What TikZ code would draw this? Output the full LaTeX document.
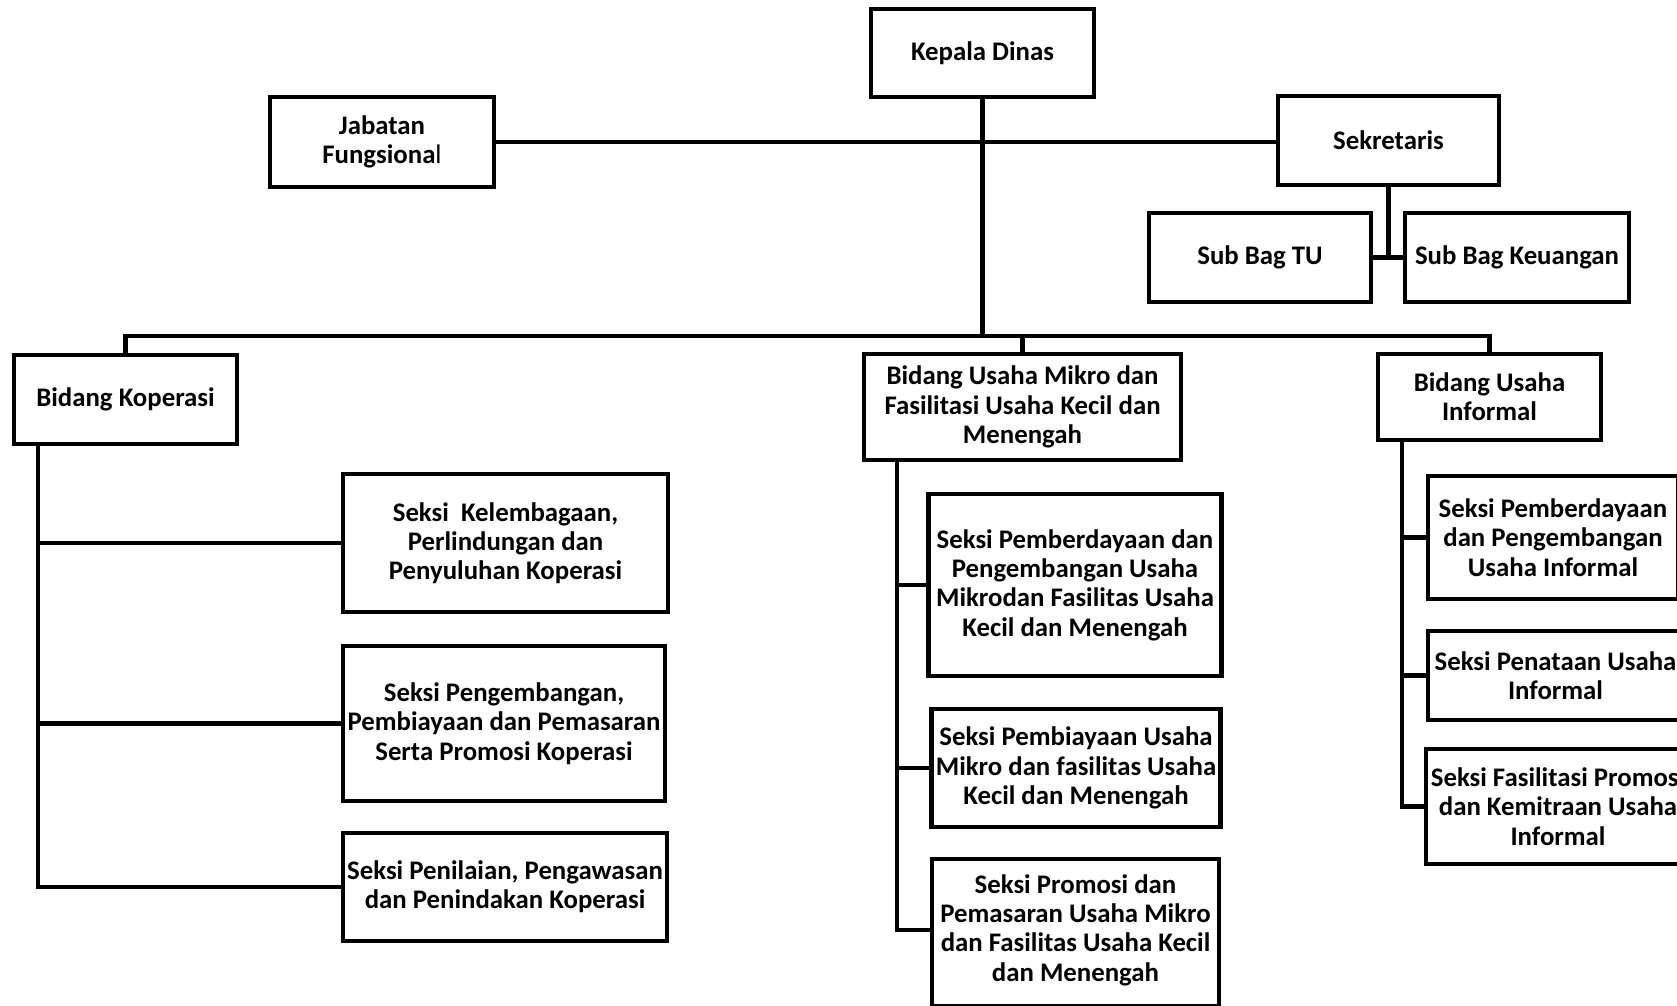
\documentclass[tikz,border=0pt]{standalone}
\usepackage{fontspec}
\setmainfont{Carlito}
\begin{document}
\begin{tikzpicture}[x=1pt,y=-1pt,
  lbl/.style={font=\bfseries\fontsize{26.8}{29.3}\selectfont, align=center},
  box/.style={draw, line width=4.3pt, inner sep=0pt, lbl},
  conn/.style={line width=4.3pt}]
\useasboundingbox (0,0) rectangle (1677,1005);
\clip (0,0) rectangle (1677,1005);
% top level
\node[box, minimum width=223, minimum height=88] (kd) at (982.5,53) {Kepala Dinas};
\node[box, minimum width=224, minimum height=90] (jf) at (382,142) {Jabatan\\Fungsiona{\mdseries l}};
\node[box, minimum width=221, minimum height=89] (sk) at (1388.5,140.5) {Sekretaris};
\node[box, minimum width=222, minimum height=89] (tu) at (1260,257.5) {Sub Bag TU};
\node[box, minimum width=224, minimum height=89] (ku) at (1517,257.5) {Sub Bag Keuangan};
% bidang
\node[box, minimum width=223, minimum height=89] (bk) at (125.5,399.5) {Bidang Koperasi};
\node[box, minimum width=317, minimum height=106] (bm) at (1022.5,407) {Bidang Usaha Mikro dan\\Fasilitasi Usaha Kecil dan\\Menengah};
\node[box, minimum width=223, minimum height=86] (bi) at (1489.5,397) {Bidang Usaha\\Informal};
% koperasi seksi
\node[box, minimum width=325, minimum height=138] (k1) at (505.5,543) {Seksi\ \ Kelembagaan,\\Perlindungan dan\\Penyuluhan Koperasi};
\node[box, minimum width=322, minimum height=155] (k2) at (504,723.5) {Seksi Pengembangan,\\Pembiayaan dan Pemasaran\\Serta Promosi Koperasi};
\node[box, minimum width=324, minimum height=108] (k3) at (505,887) {Seksi Penilaian, Pengawasan\\dan Penindakan Koperasi};
% mikro seksi
\node[box, minimum width=293, minimum height=182] (m1) at (1075,585) {Seksi Pemberdayaan dan\\Pengembangan Usaha\\Mikrodan Fasilitas Usaha\\Kecil dan Menengah};
\node[box, minimum width=289, minimum height=118] (m2) at (1076,768) {Seksi Pembiayaan Usaha\\Mikro dan fasilitas Usaha\\Kecil dan Menengah};
\node[draw, line width=4.3pt, minimum width=287, minimum height=147, anchor=north] (m3) at (1075.5,857) {};
\node[lbl] (m3t) at (1075.5,930) {Seksi Promosi dan\\Pemasaran Usaha Mikro\\dan Fasilitas Usaha Kecil\\dan Menengah};
% informal seksi
\node[box, minimum width=250, minimum height=123] (i1) at (1553,537.5) {Seksi Pemberdayaan\\dan Pengembangan\\Usaha Informal};
\node[box, minimum width=255, minimum height=89] (i2) at (1555.5,675.5) {Seksi Penataan Usaha\\Informal};
\node[box, minimum width=264, minimum height=115] (i3) at (1558,806.5) {Seksi Fasilitasi Promosi\\dan Kemitraan Usaha\\Informal};
% connectors
\coordinate (bus) at (0,336);
\coordinate (kx) at (38,0);
\coordinate (mx) at (897,0);
\coordinate (ix) at (1402,0);
\draw[conn] (jf.east) -- (jf.east -| sk.west);
\draw[conn] (kd.south) -- (kd.south |- bus);
\draw[conn] (bk.north) |- (bus -| bi.north) -- (bi.north);
\draw[conn] (bm.north) -- (bm.north |- bus);
\draw[conn] (sk.south) -- (sk.south |- tu.east);
\draw[conn] (tu.east) -- (ku.west);
% koperasi tree
\draw[conn] (kx |- bk.south) |- (k3.west);
\draw[conn] (kx |- k1.west) -- (k1.west);
\draw[conn] (kx |- k2.west) -- (k2.west);
% mikro tree
\draw[conn] (mx |- bm.south) |- (m3.west |- m3t);
\draw[conn] (mx |- m1.west) -- (m1.west);
\draw[conn] (mx |- m2.west) -- (m2.west);
% informal tree
\draw[conn] (ix |- bi.south) |- (i3.west);
\draw[conn] (ix |- i1.west) -- (i1.west);
\draw[conn] (ix |- i2.west) -- (i2.west);
\end{tikzpicture}
\end{document}
